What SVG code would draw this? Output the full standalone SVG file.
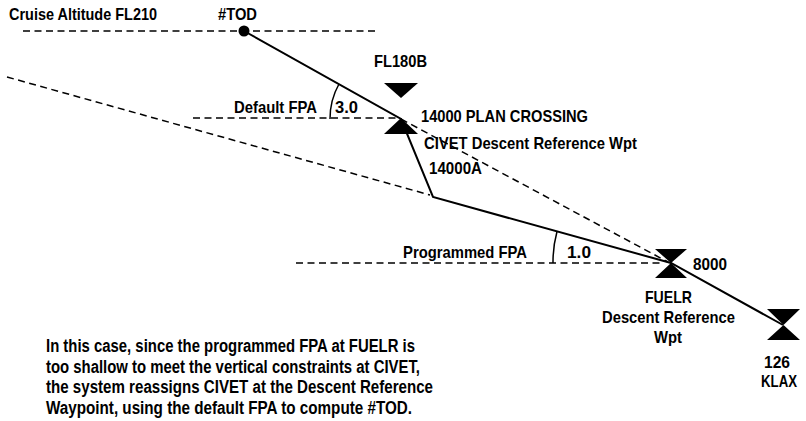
<svg xmlns="http://www.w3.org/2000/svg" width="806" height="421" viewBox="0 0 806 421">
<style>
text{font-family:"Liberation Sans",Arial,sans-serif;font-weight:bold;fill:#000;}
.l{font-size:17px;}
.s{font-size:16px;}
.b{font-size:18px;}
.dash{fill:none;stroke:#000;stroke-width:1.5;stroke-dasharray:7 4.5;}
.solid{fill:none;stroke:#000;stroke-width:2;}
.arc{fill:none;stroke:#000;stroke-width:1.5;}
.mark{fill:#000;stroke:none;}
</style>
<rect width="806" height="421" fill="#fff"/>
<g id="connectors">
<line class="dash" x1="23" y1="31" x2="376" y2="31"/>
<line class="dash" x1="7" y1="77" x2="430" y2="195"/>
<line class="dash" x1="193" y1="118" x2="398" y2="118"/>
<line class="dash" x1="401" y1="119" x2="668" y2="262"/>
<line class="dash" x1="296" y1="263" x2="664" y2="263"/>
<polyline class="solid" points="244,31 401,119 433,197 671,263 783,325"/>
<path class="arc" d="M339,84 A71,71 0 0 0 330,119"/>
<path class="arc" d="M557,231.5 A118,118 0 0 0 553,263"/>
</g>
<g id="tod">
<circle class="mark" cx="244" cy="31" r="5.5"/>
<text class="l" x="218" y="20" textLength="39" lengthAdjust="spacingAndGlyphs">#TOD</text>
</g>
<g id="cruise">
<text class="l" x="9" y="20" textLength="148" lengthAdjust="spacingAndGlyphs">Cruise Altitude FL210</text>
</g>
<g id="fl180b">
<polygon class="mark" points="384,83 418,83 401,98"/>
<text class="l" x="374" y="67" textLength="53" lengthAdjust="spacingAndGlyphs">FL180B</text>
</g>
<g id="default-fpa">
<text class="l" x="234" y="113" textLength="83" lengthAdjust="spacingAndGlyphs">Default FPA</text>
<text class="l" x="335" y="113" textLength="23" lengthAdjust="spacingAndGlyphs">3.0</text>
</g>
<g id="civet">
<polygon class="mark" points="401,118 384,134 418,134"/>
<text class="l" x="421" y="122" textLength="167" lengthAdjust="spacingAndGlyphs">14000 PLAN CROSSING</text>
<text class="l" x="424" y="149" textLength="213" lengthAdjust="spacingAndGlyphs">CIVET Descent Reference Wpt</text>
<text class="l" x="429" y="174" textLength="53" lengthAdjust="spacingAndGlyphs">14000A</text>
</g>
<g id="programmed-fpa">
<text class="l" x="403" y="258" textLength="124" lengthAdjust="spacingAndGlyphs">Programmed FPA</text>
<text class="l" x="567" y="258" textLength="24" lengthAdjust="spacingAndGlyphs">1.0</text>
</g>
<g id="fuelr">
<polygon class="mark" points="655,249 687,249 671,263 687,278 655,278 671,263"/>
<text class="l" x="693" y="270" textLength="34" lengthAdjust="spacingAndGlyphs">8000</text>
<text class="l" x="645" y="303" textLength="47" lengthAdjust="spacingAndGlyphs">FUELR</text>
<text class="l" x="602" y="323" textLength="133" lengthAdjust="spacingAndGlyphs">Descent Reference</text>
<text class="l" x="654" y="343" textLength="28" lengthAdjust="spacingAndGlyphs">Wpt</text>
</g>
<g id="klax">
<polygon class="mark" points="767,309 800,309 783.5,325 800,340 767,340 783.5,325"/>
<text class="s" x="764" y="368" textLength="26" lengthAdjust="spacingAndGlyphs">126</text>
<text class="s" x="761" y="387" textLength="36" lengthAdjust="spacingAndGlyphs">KLAX</text>
</g>
<g id="note">
<text class="b" x="46" y="352" textLength="369" lengthAdjust="spacingAndGlyphs">In this case, since the programmed FPA at FUELR is</text>
<text class="b" x="46" y="372.5" textLength="374" lengthAdjust="spacingAndGlyphs">too shallow to meet the vertical constraints at CIVET,</text>
<text class="b" x="46" y="393" textLength="387" lengthAdjust="spacingAndGlyphs">the system reassigns CIVET at the Descent Reference</text>
<text class="b" x="46" y="413.5" textLength="366" lengthAdjust="spacingAndGlyphs">Waypoint, using the default FPA to compute #TOD.</text>
</g>
</svg>
